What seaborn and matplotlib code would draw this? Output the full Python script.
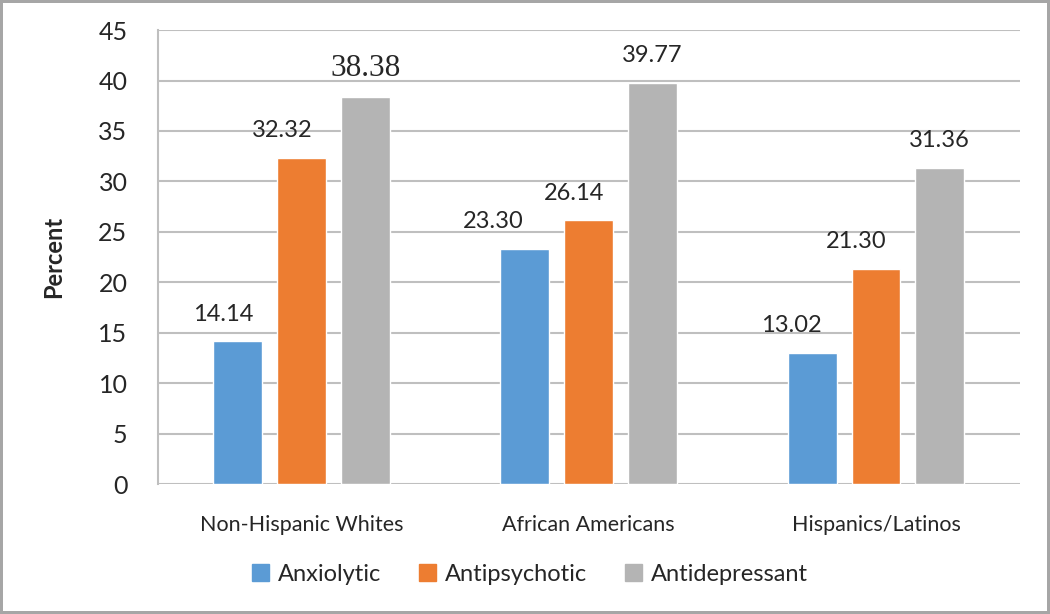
import numpy as np
import pandas as pd
import seaborn as sns
import matplotlib.pyplot as plt

groups = ['Non-Hispanic Whites', 'African Americans', 'Hispanics/Latinos']
drugs = ['Anxiolytic', 'Antipsychotic', 'Antidepressant']
anxiolytic = [14.14, 23.30, 13.02]
antipsychotic = [32.32, 26.14, 21.30]
antidepressant = [38.38, 39.77, 31.36]
colors = ['#5B9BD5', '#ED7D31', '#B4B4B4']

# label nudges (category units), by drug then group
label_dx = [[-0.052, -0.11, -0.073],
            [-0.066, -0.052, -0.07],
            [0.0, 0.0, 0.0]]

df = pd.DataFrame({
    'group': groups * 3,
    'drug': [d for d in drugs for _ in groups],
    'percent': anxiolytic + antipsychotic + antidepressant,
})

sns.set_style('white')
plt.rcParams['font.family'] = ['Lato', 'DejaVu Sans']

fig = plt.figure(figsize=(10.5, 6.14), dpi=100)
fig.patch.set_edgecolor('#A6A6A6')
fig.patch.set_linewidth(3)
ax = fig.add_axes([0.1505, 0.2117, 0.8205, 0.7393])

sns.barplot(data=df, x='group', y='percent', hue='drug', hue_order=drugs,
            palette=colors, width=0.667, gap=0.234, saturation=1,
            legend=False, ax=ax, zorder=3)

ax.set_ylim(0, 45)
ax.set_xlim(-0.5, 2.5)
ax.set_yticks(np.arange(0, 46, 5))
ax.grid(axis='y', color='#BFBFBF', linewidth=1.5, zorder=0)
ax.set_axisbelow(True)
for s in ['top', 'right', 'bottom']:
    ax.spines[s].set_visible(False)
ax.spines['left'].set_color('#BFBFBF')
ax.spines['left'].set_linewidth(1.5)
ax.tick_params(axis='y', labelsize=18, pad=22, length=0)
ax.tick_params(axis='x', labelsize=15.5, pad=22, length=0)
ax.set_xlabel('')
ax.set_ylabel('Percent', fontsize=17, fontweight='bold', labelpad=24)

for i, cont in enumerate(ax.containers):
    for j, bar in enumerate(cont):
        h = bar.get_height()
        xc = bar.get_x() + bar.get_width() / 2 + label_dx[i][j]
        if i == 2 and j == 0:
            ax.text(xc, h + 2.8, f'{h:.2f}', ha='center', va='center',
                    fontsize=22.5, family=['Liberation Serif'])
        else:
            ax.text(xc, h + 2.7, f'{h:.2f}', ha='center', va='center',
                    fontsize=17)

handles = [plt.Rectangle((0, 0), 1, 1, color=c) for c in colors]
fig.legend(handles, drugs, loc='center', bbox_to_anchor=(0.505, 0.065),
           ncol=3, frameon=False, fontsize=17, handlelength=0.7,
           handleheight=0.7, handletextpad=0.4, columnspacing=1.6)

fig.savefig('out.png', dpi=100, edgecolor=fig.get_edgecolor())
